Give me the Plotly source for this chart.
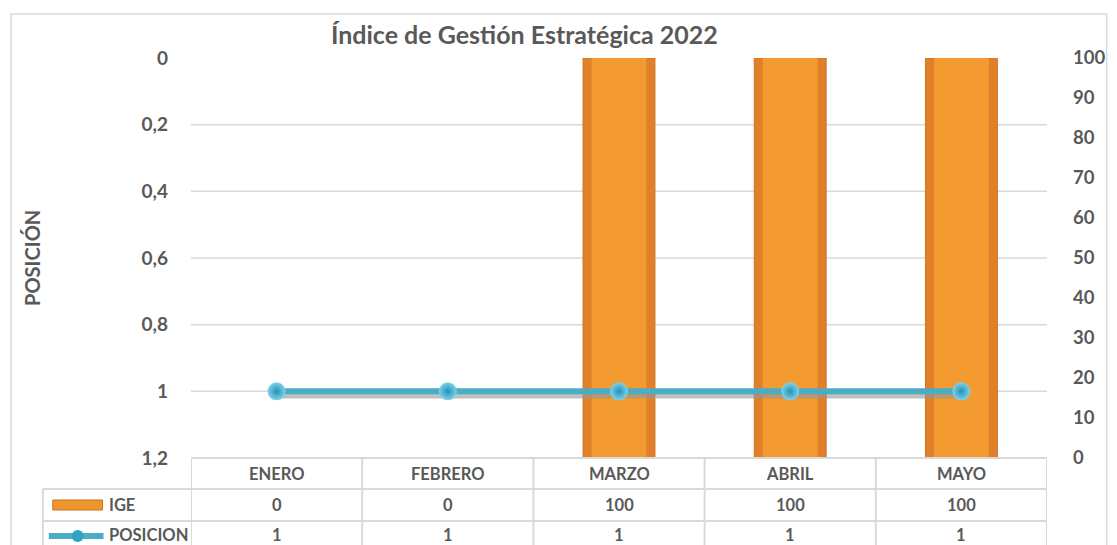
import plotly.graph_objects as go

categories = ["ENERO", "FEBRERO", "MARZO", "ABRIL", "MAYO"]
ige = [0, 0, 100, 100, 100]
posicion = [1, 1, 1, 1, 1]
left_ticks = [0, 0.2, 0.4, 0.6, 0.8, 1, 1.2]
left_labels = ["0", "0,2", "0,4", "0,6", "0,8", "1", "1,2"]
right_ticks = [0, 10, 20, 30, 40, 50, 60, 70, 80, 90, 100]
series_names = ["IGE", "POSICION"]

TXT = "#595959"
GRID = "#d9d9d9"
FONT = "Lato"

OFF = 8  # page body margin
W, H = 1117 - OFF, 545 - OFF
L, R, T, B = 191 - OFF, 1117 - 1052, 58 - OFF, 545 - 458
PW, PH = W - L - R, H - T - B


def px(xabs):
    return (xabs - OFF - L) / PW


def py(yabs):
    return (H - B - (yabs - OFF)) / PH


fig = go.Figure()

# bars (right axis, base)
fig.add_trace(go.Bar(x=categories, y=ige, width=0.42, yaxis="y",
                     marker=dict(color="#E2802A", line=dict(color="#CF7427", width=1)),
                     showlegend=False, hoverinfo="skip"))
fig.add_trace(go.Bar(x=categories, y=ige, width=0.32, yaxis="y",
                     marker=dict(color="#F39A30", line=dict(width=0)),
                     showlegend=False, name="IGE"))
# line shadow
fig.add_trace(go.Scatter(x=categories, y=posicion, yaxis="y2", mode="lines",
                         line=dict(color="rgba(150,150,150,0.6)", width=5),
                         showlegend=False, hoverinfo="skip"))
# line
fig.add_trace(go.Scatter(x=categories, y=posicion, yaxis="y3", mode="lines+markers",
                         line=dict(color="#4BACC6", width=6),
                         marker=dict(size=18, color="#7DD3EC",
                                     gradient=dict(type="radial", color="#2590B5"),
                                     line=dict(width=0)),
                         showlegend=False, name="POSICION"))

shapes = []
# gridlines (left axis)
for v in left_ticks[1:-1]:
    shapes.append(dict(type="line", xref="paper", yref="y3", x0=0, x1=1, y0=v, y1=v,
                       line=dict(color=GRID, width=1.5), layer="below"))
# table lines
ytop = 0
yr1 = py(489)
yr2 = py(521)
ybot = py(560)
xleg = px(42)
shapes.append(dict(type="line", xref="paper", yref="paper", x0=0, x1=1, y0=ytop, y1=ytop,
                   line=dict(color=GRID, width=2)))
for yy in (yr1, yr2):
    shapes.append(dict(type="line", xref="paper", yref="paper", x0=xleg, x1=1, y0=yy, y1=yy,
                       line=dict(color=GRID, width=2)))
for i in range(len(categories) + 1):
    shapes.append(dict(type="line", xref="x", yref="paper", x0=i - 0.5, x1=i - 0.5,
                       y0=ytop, y1=ybot, line=dict(color=GRID, width=2)))
shapes.append(dict(type="line", xref="paper", yref="paper", x0=xleg, x1=xleg,
                   y0=yr1, y1=ybot, line=dict(color=GRID, width=2)))
# outer border
shapes.append(dict(type="rect", xref="paper", yref="paper", x0=px(10), x1=px(1112),
                   y0=py(560), y1=py(14), line=dict(color=GRID, width=1.5)))
# legend keys in table
shapes.append(dict(type="rect", xref="paper", yref="paper", x0=px(52), x1=px(102),
                   y0=py(510), y1=py(500), fillcolor="#F0952C",
                   line=dict(color="#C96E22", width=1)))
shapes.append(dict(type="line", xref="paper", yref="paper", x0=px(48), x1=px(103),
                   y0=py(536), y1=py(536), line=dict(color="#4BACC6", width=6)))
shapes.append(dict(type="circle", xref="paper", yref="paper", x0=px(71), x1=px(83),
                   y0=py(542), y1=py(530), fillcolor="#2FA3C8", line=dict(width=0)))

annotations = []
rows_y = [py(474), py(505), py(535)]
fs = 16.5
for i, c in enumerate(categories):
    for txt, yy in ((c, rows_y[0]), (ige[i], rows_y[1]), (posicion[i], rows_y[2])):
        annotations.append(dict(x=c, xref="x", y=yy, yref="paper", text=f"<b>{txt}</b>",
                                xanchor="center", yanchor="middle", showarrow=False,
                                height=18,
                                font=dict(family=FONT, size=fs, color=TXT)))
for name, yy in zip(series_names, rows_y[1:]):
    annotations.append(dict(x=px(107), xref="paper", y=yy, yref="paper", text=f"<b>{name}</b>",
                            xanchor="left", yanchor="middle", showarrow=False, height=18,
                            font=dict(family=FONT, size=fs, color=TXT)))
annotations.append(dict(x=px(31), xref="paper", y=py(258), yref="paper", text="<b>POSICIÓN</b>",
                        textangle=-90, xanchor="center", yanchor="middle", showarrow=False,
                        font=dict(family=FONT, size=20, color=TXT)))
annotations.append(dict(x=px(526), xref="paper", y=py(34), yref="paper",
                        text="<b>Índice de Gestión Estratégica 2022</b>", showarrow=False,
                        xanchor="center", yanchor="middle",
                        font=dict(family=FONT, size=25, color=TXT)))

fig.update_layout(
    width=W, height=H,
    margin=dict(l=L, r=R, t=T, b=B),
    paper_bgcolor="white", plot_bgcolor="white",
    barmode="overlay",
    showlegend=False,
    xaxis=dict(type="category", range=[-0.5, 4.5], showticklabels=False,
               showgrid=False, zeroline=False, showline=False),
    yaxis=dict(side="right", range=[0, 100], tickvals=right_ticks, showgrid=False,
               zeroline=False, ticklabelstandoff=25,
               tickfont=dict(family=FONT, size=18.5, color=TXT, weight="bold")),
    yaxis2=dict(overlaying="y", range=[1.186, -0.014], visible=False),
    yaxis3=dict(overlaying="y", side="left", range=[1.2, 0], tickvals=left_ticks,
                ticktext=left_labels, showgrid=False, zeroline=False,
                ticklabelstandoff=22,
                tickfont=dict(family=FONT, size=19, color=TXT, weight="bold")),
    shapes=shapes,
    annotations=annotations,
)

fig.write_html("out.html")
